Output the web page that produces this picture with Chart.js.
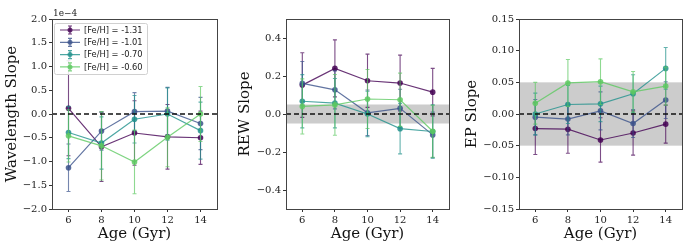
<!DOCTYPE html>
<html>
<head>
<meta charset="utf-8">
<script src="https://cdn.jsdelivr.net/npm/chart.js@4.4.0/dist/chart.umd.min.js"></script>
<style>
    body { margin: 0; background: #fff; }
    #wrap { position: relative; width: 700px; height: 248px; }
    canvas { position: absolute; top: 0; }
</style>
</head>
<body>
<div id="wrap">
    <canvas id="waveChart" width="230" height="248" style="left:0"></canvas>
    <canvas id="rewChart" width="230" height="248" style="left:230px"></canvas>
    <canvas id="epChart" width="240" height="248" style="left:460px"></canvas>
</div>
<script>
// Ages of the model grid (Gyr)
const ages = [6, 8, 10, 12, 14];
const feLabels = ['[Fe/H] = -1.31', '[Fe/H] = -1.01', '[Fe/H] = -0.70', '[Fe/H] = -0.60'];
const feColors = ['#440154', '#3b528b', '#21918c', '#5ec962'];

// Wavelength slope, in units of 1e-4
const waveM131 = [0.12, -0.69, -0.40, -0.48, -0.50];
const waveM131Err = [1.0, 0.73, 0.68, 0.68, 0.56];
const waveM101 = [-1.13, -0.36, 0.05, 0.06, -0.20];
const waveM101Err = [0.5, 0.4, 0.4, 0.5, 0.55];
const waveM070 = [-0.39, -0.61, -0.11, 0.0, -0.35];
const waveM070Err = [0.55, 0.55, 0.5, 0.55, 0.6];
const waveM060 = [-0.46, -0.67, -1.01, -0.49, 0.0];
const waveM060Err = [0.55, 0.72, 0.67, 0.62, 0.58];

// REW slope
const rewM131 = [0.152, 0.24, 0.175, 0.163, 0.115];
const rewM131Err = [0.17, 0.15, 0.14, 0.147, 0.125];
const rewM101 = [0.161, 0.127, 0.006, 0.03, -0.11];
const rewM101Err = [0.115, 0.1, 0.12, 0.1, 0.12];
const rewM070 = [0.067, 0.057, 0.0, -0.077, -0.092];
const rewM070Err = [0.14, 0.13, 0.12, 0.133, 0.14];
const rewM060 = [0.04, 0.048, 0.079, 0.075, -0.091];
const rewM060Err = [0.145, 0.16, 0.155, 0.14, 0.137];

// EP slope
const epM131 = [-0.023, -0.024, -0.041, -0.030, -0.016];
const epM131Err = [0.041, 0.038, 0.035, 0.035, 0.03];
const epM101 = [-0.005, -0.008, 0.005, -0.015, 0.022];
const epM101Err = [0.028, 0.025, 0.03, 0.022, 0.029];
const epM070 = [0.0, 0.015, 0.016, 0.032, 0.072];
const epM070Err = [0.033, 0.03, 0.028, 0.03, 0.033];
const epM060 = [0.017, 0.049, 0.051, 0.035, 0.044];
const epM060Err = [0.033, 0.037, 0.036, 0.032, 0.03];

const waveTicks = [-2, -1.5, -1, -0.5, 0, 0.5, 1, 1.5, 2];
const rewTicks = [-0.4, -0.2, 0, 0.2, 0.4];
const epTicks = [-0.15, -0.1, -0.05, 0, 0.05, 0.1, 0.15];

const serif = "'DejaVu Serif', serif";
const sans = "'DejaVu Sans', sans-serif";

function withAlpha(hex, a) {
    const n = parseInt(hex.slice(1), 16);
    return `rgba(${n >> 16}, ${(n >> 8) & 255}, ${n & 255}, ${a})`;
}

function fmt(v, digits) {
    return v.toFixed(digits).replace('-', '\u2212');
}

// vertical error bars with caps, drawn just before each dataset
const errorBars = {
    id: 'errorBars',
    beforeDatasetDraw(chart, args) {
        const ds = chart.data.datasets[args.index];
        if (!ds.errors) return;
        const y = chart.scales.y;
        const c = chart.ctx;
        c.save();
        c.strokeStyle = withAlpha(ds.baseColor, 0.7);
        c.lineWidth = 1.1;
        args.meta.data.forEach((pt, i) => {
            const v = ds.data[i].y;
            const top = y.getPixelForValue(v + ds.errors[i]);
            const bot = y.getPixelForValue(v - ds.errors[i]);
            c.beginPath();
            c.moveTo(pt.x, top); c.lineTo(pt.x, bot);
            c.moveTo(pt.x - 2, top); c.lineTo(pt.x + 2, top);
            c.moveTo(pt.x - 2, bot); c.lineTo(pt.x + 2, bot);
            c.stroke();
        });
        c.restore();
    }
};

// grey +/- band, dashed zero line and the axes frame
const decorations = {
    id: 'decorations',
    beforeDatasetsDraw(chart, args, opts) {
        const {ctx: c, chartArea: a, scales: {y}} = chart;
        if (opts.band) {
            const t = y.getPixelForValue(opts.band);
            const b = y.getPixelForValue(-opts.band);
            c.save();
            c.fillStyle = '#cccccc';
            c.fillRect(a.left, t, a.right - a.left, b - t);
            c.restore();
        }
    },
    afterDatasetsDraw(chart) {
        const {ctx: c, chartArea: a, scales: {y}} = chart;
        const y0 = y.getPixelForValue(0);
        c.save();
        c.strokeStyle = '#111';
        c.lineWidth = 1.5;
        c.setLineDash([5, 3]);
        c.beginPath();
        c.moveTo(a.left, y0); c.lineTo(a.right, y0);
        c.stroke();
        c.restore();
    },
    afterDraw(chart, args, opts) {
        const {ctx: c, chartArea: a} = chart;
        c.save();
        c.strokeStyle = '#444';
        c.lineWidth = 1;
        c.strokeRect(Math.round(a.left) + 0.5, Math.round(a.top) + 0.5,
            Math.round(a.right - a.left), Math.round(a.bottom - a.top));
        if (opts.offsetText) {
            c.fillStyle = '#222';
            c.font = '9px ' + serif;
            c.textBaseline = 'alphabetic';
            c.fillText(opts.offsetText, a.left + 1, a.top - 3);
        }
        c.restore();
    }
};

// legend drawn inside the plot area (upper left)
const innerLegend = {
    id: 'innerLegend',
    afterDraw(chart, args, opts) {
        if (!opts.show) return;
        const {ctx: c, chartArea: a} = chart;
        const x0 = a.left + 2, y0 = a.top + 4, w = 93, h = 51;
        c.save();
        c.fillStyle = 'rgba(255,255,255,0.85)';
        c.strokeStyle = '#d0d0d0';
        c.lineWidth = 1;
        c.beginPath();
        c.roundRect(x0 + 0.5, y0 + 0.5, w, h, 2);
        c.fill(); c.stroke();
        c.font = '8.3px ' + sans;
        c.textBaseline = 'middle';
        chart.data.datasets.forEach((ds, i) => {
            const yy = y0 + 7 + i * 12.3;
            const col = withAlpha(ds.baseColor, 0.8);
            c.strokeStyle = col;
            c.lineWidth = 1.2;
            c.beginPath();
            c.moveTo(x0 + 6, yy); c.lineTo(x0 + 26, yy);
            c.moveTo(x0 + 16, yy - 4); c.lineTo(x0 + 16, yy + 4);
            c.moveTo(x0 + 14, yy - 4); c.lineTo(x0 + 18, yy - 4);
            c.moveTo(x0 + 14, yy + 4); c.lineTo(x0 + 18, yy + 4);
            c.stroke();
            c.fillStyle = col;
            c.beginPath();
            c.arc(x0 + 16, yy, 2.5, 0, Math.PI * 2);
            c.fill();
            c.fillStyle = '#222';
            c.fillText(ds.label, x0 + 30, yy + 0.5);
        });
        c.restore();
    }
};

function buildDatasets(series, errs) {
    return series.map((vals, i) => ({
        label: feLabels[i],
        data: ages.map((a, j) => ({x: a, y: vals[j]})),
        errors: errs[i],
        baseColor: feColors[i],
        borderColor: withAlpha(feColors[i], 0.8),
        backgroundColor: withAlpha(feColors[i], 0.85),
        borderWidth: 1.2,
        pointRadius: 2.8,
        pointBorderWidth: 0,
        pointHoverRadius: 2.8,
        tension: 0,
        order: series.length - i
    }));
}

function makePanel(id, cfg) {
    return new Chart(document.getElementById(id), {
        type: 'line',
        data: {datasets: buildDatasets(cfg.series, cfg.errors)},
        plugins: [errorBars, decorations, innerLegend],
        options: {
            responsive: false,
            animation: false,
            events: [],
            layout: {padding: {left: 0, right: cfg.padRight, top: 19, bottom: 0}},
            plugins: {
                legend: {display: false},
                tooltip: {enabled: false},
                decorations: {band: cfg.band, offsetText: cfg.offsetText},
                innerLegend: {show: cfg.legend}
            },
            scales: {
                x: {
                    type: 'linear',
                    min: 5,
                    max: 15,
                    afterBuildTicks: s => { s.ticks = ages.map(v => ({value: v})); },
                    afterFit: s => { s.height = 39; },
                    grid: {drawOnChartArea: false, tickLength: 3, color: '#333'},
                    border: {display: false},
                    ticks: {
                        padding: 2,
                        color: '#222',
                        font: {family: serif, size: 10},
                        callback: v => String(v)
                    },
                    title: {
                        display: true,
                        text: 'Age (Gyr)',
                        color: '#111',
                        font: {family: serif, size: 15},
                        padding: {top: 0, bottom: 5}
                    }
                },
                y: {
                    type: 'linear',
                    min: cfg.yMin,
                    max: cfg.yMax,
                    afterBuildTicks: s => { s.ticks = cfg.yTicks.map(v => ({value: v})); },
                    afterFit: s => { s.width = cfg.axisWidth; },
                    grid: {drawOnChartArea: false, tickLength: 3, color: '#333'},
                    border: {display: false},
                    ticks: {
                        padding: 2,
                        color: '#222',
                        font: {family: serif, size: 10},
                        callback: v => fmt(v, cfg.digits)
                    },
                    title: {
                        display: true,
                        text: cfg.title,
                        color: '#111',
                        font: {family: serif, size: 15},
                        padding: {top: cfg.titlePad, bottom: 0}
                    }
                }
            }
        }
    });
}

makePanel('waveChart', {
    series: [waveM131, waveM101, waveM070, waveM060],
    errors: [waveM131Err, waveM101Err, waveM070Err, waveM060Err],
    yTicks: waveTicks, yMin: -2, yMax: 2, digits: 1, title: 'Wavelength Slope',
    axisWidth: 52, padRight: 13, titlePad: 3, legend: true, offsetText: '1e\u22124'
});

makePanel('rewChart', {
    series: [rewM131, rewM101, rewM070, rewM060],
    errors: [rewM131Err, rewM101Err, rewM070Err, rewM060Err],
    yTicks: rewTicks, yMin: -0.5, yMax: 0.5, digits: 1, title: 'REW Slope', band: 0.05,
    axisWidth: 56, padRight: 11, titlePad: 6
});

makePanel('epChart', {
    series: [epM131, epM101, epM070, epM060],
    errors: [epM131Err, epM101Err, epM070Err, epM060Err],
    yTicks: epTicks, yMin: -0.15, yMax: 0.15, digits: 2, title: 'EP Slope', band: 0.05,
    axisWidth: 59, padRight: 18, titlePad: 3
});
</script>
</body>
</html>
